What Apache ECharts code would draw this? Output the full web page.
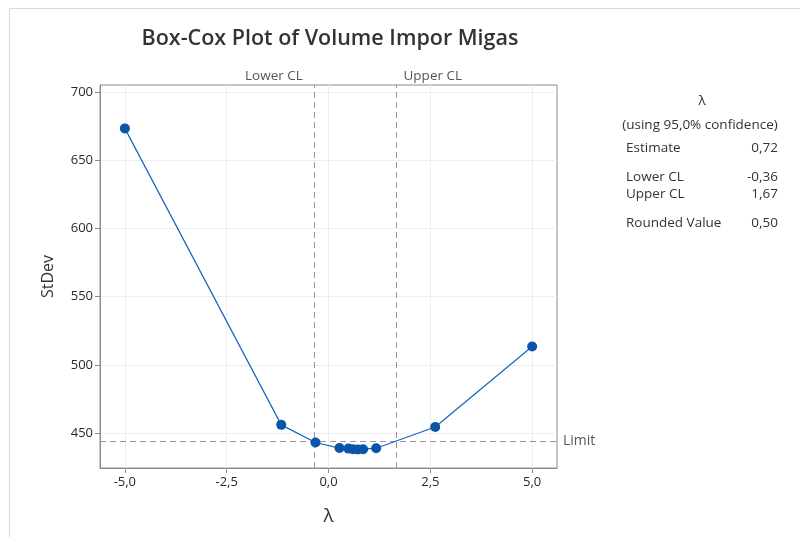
<!DOCTYPE html>
<html>
<head>
<meta charset="utf-8">
<script src="https://cdn.jsdelivr.net/npm/echarts@6/dist/echarts.min.js"></script>
<style>html,body{margin:0;padding:0;background:#fff}#c{width:800px;height:537px}</style>
</head>
<body>
<div id="c"></div>
<script>
const lambdas = [-5, -1.16, -0.32, 0.27, 0.49, 0.6, 0.72, 0.85, 1.17, 2.62, 5];
const stdevs = [673.2, 456.0, 443.1, 439.0, 438.6, 438.2, 438.0, 438.2, 438.9, 454.4, 513.4];
const xTicks = [-5, -2.5, 0, 2.5, 5];
const yTicks = [450, 500, 550, 600, 650, 700];
const lowerCL = -0.36;
const upperCL = 1.67;
const limitValue = 444.3;
const statTitle = ['λ', '(using 95,0% confidence)'];
const statLabels = ['Estimate', 'Lower CL', 'Upper CL', 'Rounded Value'];
const statValues = ['0,72', '-0,36', '1,67', '0,50'];
const statRows = [148, 177, 194, 223];

const FONT = 'Open Sans';
const PF = '13.5px "' + FONT + '"';
const fmt = v => v.toFixed(1).replace('.', ',');

const graphics = [
  {type:'polyline', shape:{points:[[9.5,537],[9.5,8.5],[800,8.5]]}, style:{stroke:'#d8d8d8', lineWidth:1, fill:null}, silent:true},
  {type:'text', style:{text:statTitle[0], x:702, y:101, textAlign:'center', textVerticalAlign:'middle', fill:'#333', font:PF}},
  {type:'text', style:{text:statTitle[1], x:700, y:125, textAlign:'center', textVerticalAlign:'middle', fill:'#333', font:PF}}
];
statLabels.forEach((s,i)=>{
  graphics.push({type:'text', style:{text:s, x:626, y:statRows[i], textAlign:'left', textVerticalAlign:'middle', fill:'#333', font:PF}});
  graphics.push({type:'text', style:{text:statValues[i], x:778, y:statRows[i], textAlign:'right', textVerticalAlign:'middle', fill:'#333', font:PF}});
});

const chart = echarts.init(document.getElementById('c'), null, {renderer:'canvas'});
chart.setOption({
  animation:false,
  backgroundColor:'#fff',
  title:{
    text:'Box-Cox Plot of Volume Impor Migas',
    left:325, textAlign:'center', top:23,
    textStyle:{fontFamily:FONT, fontSize:21.5, fontWeight:600, color:'#333'}
  },
  grid:{left:100, right:243, top:85, bottom:69, show:true, borderColor:'#8c8c8c', borderWidth:1, containLabel:false},
  xAxis:{
    type:'value', min:-5.61, max:5.61,
    name:'λ', nameLocation:'middle', nameGap:39,
    nameTextStyle:{fontFamily:FONT, fontSize:19, color:'#333'},
    axisLine:{show:true, onZero:false, lineStyle:{color:'#8c8c8c'}},
    axisTick:{show:true, customValues:xTicks, length:5, lineStyle:{color:'#8c8c8c'}},
    axisLabel:{customValues:xTicks, formatter:v=>fmt(v), fontFamily:FONT, fontSize:13, color:'#2a2a2a', margin:8},
    splitLine:{show:true, lineStyle:{color:'#eeeeee'}}
  },
  yAxis:{
    type:'value', min:424.4, max:705,
    name:'StDev', nameLocation:'middle', nameGap:44, nameRotate:90,
    nameTextStyle:{fontFamily:FONT, fontSize:16, color:'#333'},
    axisLine:{show:true, onZero:false, lineStyle:{color:'#8c8c8c'}},
    axisTick:{show:true, customValues:yTicks, length:5, lineStyle:{color:'#8c8c8c'}},
    axisLabel:{customValues:yTicks, fontFamily:FONT, fontSize:13, color:'#2a2a2a', margin:7},
    splitLine:{show:true, lineStyle:{color:'#eeeeee'}}
  },
  series:[{
    type:'line',
    data:lambdas.map((x,i)=>[x, stdevs[i]]),
    symbol:'circle', symbolSize:10,
    lineStyle:{color:'#1565c0', width:1.2},
    itemStyle:{color:'#0a55a8'},
    z:5,
    markLine:{
      silent:true, symbol:'none', animation:false,
      lineStyle:{color:'#999', type:[6,4], width:1},
      data:[
        {xAxis:lowerCL, label:{show:true, position:'end', formatter:'Lower CL', align:'right', padding:[0,11,0,0], distance:2, fontFamily:FONT, fontSize:13.5, color:'#555'}},
        {xAxis:upperCL, label:{show:true, position:'end', formatter:'Upper CL', align:'left', padding:[0,0,0,7], distance:2, fontFamily:FONT, fontSize:13.5, color:'#555'}},
        {yAxis:limitValue, label:{show:true, position:'end', formatter:'Limit', distance:6, fontFamily:FONT, fontSize:14, color:'#555'}}
      ]
    }
  }],
  graphic:graphics
});
</script>
</body>
</html>
